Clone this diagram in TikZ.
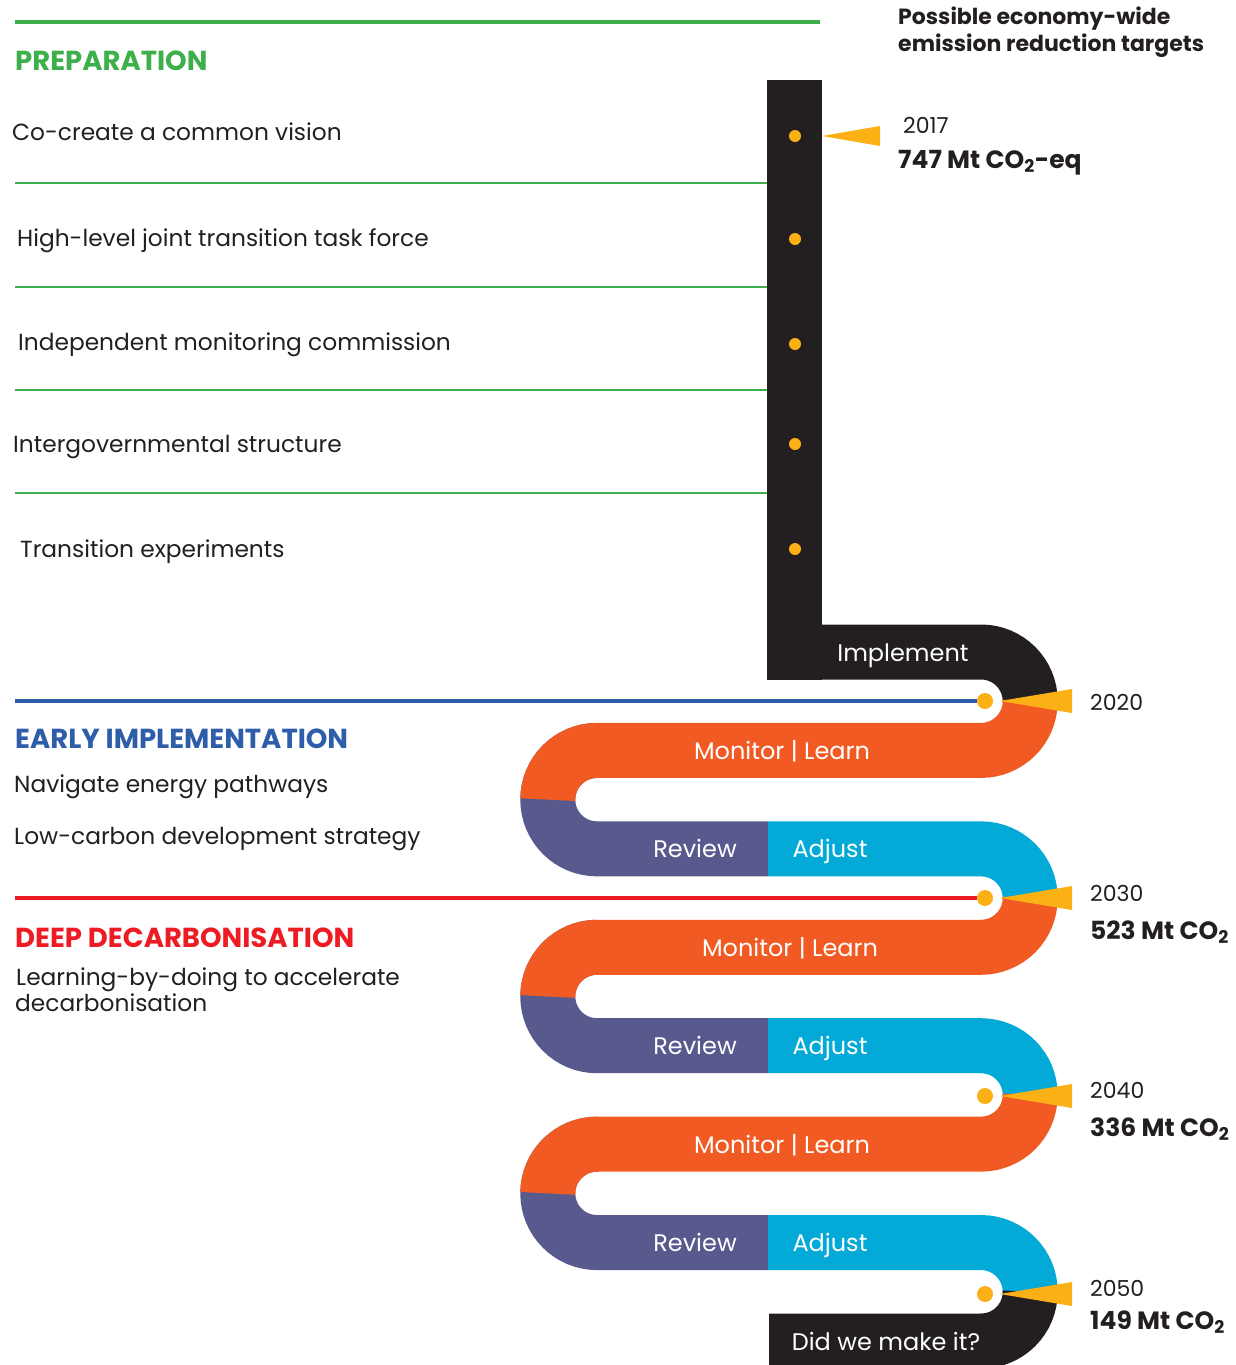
\documentclass[tikz,border=0pt]{standalone}
\usepackage{fontspec}
\setmainfont{Poppins}
\usetikzlibrary{positioning}

\definecolor{prepgreen}{HTML}{3DB04B}
\definecolor{earlyblue}{HTML}{2E5EAA}
\definecolor{deepred}{HTML}{ED1C24}
\definecolor{roadblack}{HTML}{231F20}
\definecolor{monorange}{HTML}{F15A22}
\definecolor{revpurple}{HTML}{585A8E}
\definecolor{adjcyan}{HTML}{03A9D7}
\definecolor{markyellow}{HTML}{FBB016}

\begin{document}
\begin{tikzpicture}[
    x=1pt, y=-1pt,
    road/.style={line width=55pt},
    dot/.style={circle, fill=markyellow, inner sep=0pt, minimum size=16pt},
    item/.style={anchor=base west, inner sep=0pt, text=roadblack, font=\fontsize{23.3}{28}\selectfont},
    phase/.style={anchor=base west, inner sep=0pt, font=\fontsize{27.5}{32}\selectfont\bfseries},
    bandtext/.style={anchor=base, inner sep=0pt, text=white, font=\fontsize{24}{28}\selectfont},
    year/.style={anchor=base west, inner sep=0pt, text=roadblack, font=\fontsize{22}{26}\selectfont},
    target/.style={anchor=base west, inner sep=0pt, text=roadblack, font=\fontsize{25}{29}\selectfont\bfseries},
    pointer/.style={fill=markyellow}
]
\useasboundingbox (0,0) rectangle (1235,1365);

% Preparation phase
\draw[prepgreen, line width=4.5pt] (15,22) -- (820,22);
\node[phase, text=prepgreen] (prep) at (15,70) {PREPARATION};
\foreach \yy in {183,287,390,493}
    \draw[prepgreen, line width=1.1pt] (15,\yy) -- (767,\yy);
\node[item] (vision)  at (12,140) {Co-create a common vision};
\node[item] (task)    at (17,246) {High-level joint transition task force};
\node[item] (monit)   at (18,350) {Independent monitoring commission};
\node[item] (intgov)  at (13,452) {Intergovernmental structure};
\node[item] (experim) at (20,557) {Transition experiments};

% Road: preparation bar and first bend
\fill[roadblack] (767,80) rectangle (822,680);
\draw[road, roadblack] (767,652) -- (981,652) arc[start angle=-90, end angle=0, radius=49.2];
\node[bandtext] (impl) at (903,661) {Implement};

% Road: three monitor / review / adjust loops
\foreach \k/\mx in {0/782,1/790,2/782} {
    \pgfmathsetmacro\yt{652+2*\k*98.43}
    \pgfmathsetmacro\yo{\yt+98.43}
    \pgfmathsetmacro\yr{\yt+2*98.43}
    \draw[road, revpurple] (597,\yo) arc[start angle=-90, end angle=-270, radius=49.2]
        -- (768,\yr);
    \draw[road, monorange] (1030.2,\yt+49.2) arc[start angle=0, end angle=90, radius=49.2]
        -- (597,\yo) arc[start angle=-90, end angle=-180, radius=49.2];
    \draw[road, adjcyan] (768,\yr) -- (981,\yr) arc[start angle=-90, end angle=0, radius=49.2];
    \node[bandtext] at (\mx,\yo+9) {Monitor | Learn};
    \node[bandtext] at (695,\yr+9) {Review};
    \node[bandtext] at (830,\yr+9) {Adjust};
}
\draw[road, roadblack] (1030.2,1291.8) arc[start angle=0, end angle=90, radius=49.2] -- (769,1341);
\node[bandtext] (made) at (886,1350) {Did we make it?};

% Markers on the preparation bar
\foreach \n/\yy in {1/136,2/239,3/344,4/444,5/549}
    \node[dot, minimum size=12pt] (p\n) at (795,\yy) {};

% Target markers at the bends
\node[dot] (d2020) at (985,701) {};
\node[dot] (d2030) at (985,898) {};
\node[dot] (d2040) at (985,1096) {};
\node[dot] (d2050) at (985,1294) {};

\fill[pointer] (822,136) -- (880,126) -- (880,146) -- cycle;
\foreach \yy in {701,898,1096,1294}
    \fill[pointer] (1000,\yy) -- (1072,\yy-12) -- (1072,\yy+12) -- cycle;

% Early implementation
\draw[earlyblue, line width=4.5pt] (15,701) -- (d2020);
\node[phase, text=earlyblue] (early) at (15,748) {EARLY IMPLEMENTATION};
\node[item] (navig) at (14,792) {Navigate energy pathways};
\node[item] (lowc)  at (14,844) {Low-carbon development strategy};

% Deep decarbonisation
\draw[deepred, line width=4.5pt] (15,898) -- (d2030);
\node[phase, text=deepred] (deep) at (15,947) {DEEP DECARBONISATION};
\node[item] (learn1) at (16,985)  {Learning-by-doing to accelerate};
\node[item] (learn2) at (15,1011) {decarbonisation};

% Emission targets
\node[target, font=\fontsize{22}{26}\selectfont\bfseries] (head1) at (898,24) {Possible economy-wide};
\node[target, font=\fontsize{22}{26}\selectfont\bfseries] (head2) at (898,51) {emission reduction targets};
\node[year] (y2017) at (903,133) {2017};
\node[target] (t2017) at (898,168) {747 Mt CO\textsubscript{2}-eq};
\node[year] (y2020) at (1090,710) {2020};
\node[year] (y2030) at (1090,901) {2030};
\node[target] (t2030) at (1090,939) {523 Mt CO\textsubscript{2}};
\node[year] (y2040) at (1090,1098) {2040};
\node[target] (t2040) at (1090,1136) {336 Mt CO\textsubscript{2}};
\node[year] (y2050) at (1090,1296) {2050};
\node[target] (t2050) at (1090,1329) {149 Mt CO\textsubscript{2}};

\end{tikzpicture}
\end{document}
